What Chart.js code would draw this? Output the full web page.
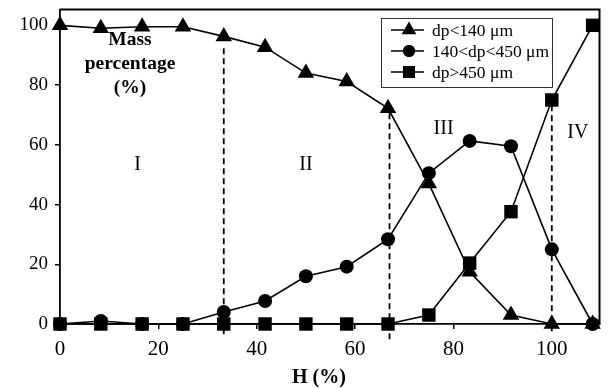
<!DOCTYPE html>
<html lang="en">
<head>
  <meta charset="UTF-8" />
  <title>Mass percentage vs H</title>
  <script src="https://cdn.jsdelivr.net/npm/chart.js"></script>
  <style>
    body {
      margin: 0;
      padding: 0;
      background: #fff;
    }
    .wrap {
      width: 609px;
      height: 388px;
    }
  </style>
</head>
<body>
  <div class="wrap">
    <canvas id="massChart" width="609" height="388"></canvas>
  </div>

  <script>
    // H (%) values, shared by all three size fractions
    const hValues = [0, 8.3, 16.7, 25, 33.3, 41.7, 50, 58.3, 66.7, 75, 83.3, 91.7, 100, 108.3];

    // mass percentage of each particle size class
    const fineMass = [100, 99, 99.5, 99.5, 96.3, 92.7, 84, 81.2, 72.2, 47, 17.5, 3, 0, 0];
    const middleMass = [0, 1, 0, 0, 4, 7.7, 16, 19.2, 28.4, 50.5, 61.3, 59.5, 25, 0];
    const coarseMass = [0, 0, 0, 0, 0, 0, 0, 0, 0, 3, 20.4, 37.6, 75, 100];

    const seriesNames = ['dp<140 \u03bcm', '140<dp<450 \u03bcm', 'dp>450 \u03bcm'];
    const seriesMarkers = ['triangle', 'circle', 'rect'];

    // regime boundaries (x, top, bottom) and region labels
    const boundaryX = [33.3, 67, 100];
    const boundaryTop = [92.3, 70.6, 73.2];
    const boundaryBottom = [-3.5, -6, -3.5];
    const regionNames = ['I', 'II', 'III', 'IV'];
    const regionX = [15.8, 50, 78, 105.3];
    const regionY = [53.2, 53.2, 65.5, 64];

    const xTicks = [0, 20, 40, 60, 80, 100];
    const yTicks = [0, 20, 40, 60, 80, 100];

    const serif = '"Liberation Serif", "Times New Roman", serif';

    function points(ys) {
      return hValues.map((h, i) => ({ x: h, y: ys[i] }));
    }

    const markerSize = { triangle: 9.5, circle: 7, rect: 9.5 };

    function makeSet(i, ys, order) {
      const m = seriesMarkers[i];
      return {
        label: seriesNames[i],
        data: points(ys),
        borderColor: '#000',
        backgroundColor: '#000',
        borderWidth: 1.6,
        pointStyle: m,
        pointRadius: markerSize[m],
        pointBorderWidth: 0,
        pointBackgroundColor: '#000',
        tension: 0,
        clip: false,
        order: order
      };
    }

    // dashed boundaries, region numerals, frame, axis texts and legend box
    const decorations = {
      id: 'decorations',
      afterDatasetsDraw(chart) {
        const ctx = chart.ctx;
        const xs = chart.scales.x;
        const ys = chart.scales.y;
        const area = chart.chartArea;
        ctx.save();

        // frame on top and right
        ctx.strokeStyle = '#000';
        ctx.lineWidth = 2;
        ctx.beginPath();
        ctx.moveTo(area.left, area.top);
        ctx.lineTo(area.right, area.top);
        ctx.lineTo(area.right, area.bottom);
        ctx.stroke();

        ctx.lineWidth = 1.8;
        ctx.setLineDash([6, 4]);
        boundaryX.forEach((bx, i) => {
          const px = xs.getPixelForValue(bx);
          ctx.beginPath();
          ctx.moveTo(px, ys.getPixelForValue(boundaryTop[i]));
          ctx.lineTo(px, ys.getPixelForValue(boundaryBottom[i]));
          ctx.stroke();
        });
        ctx.setLineDash([]);

        ctx.fillStyle = '#000';
        ctx.textAlign = 'center';
        ctx.textBaseline = 'middle';
        ctx.font = '20px ' + serif;
        regionNames.forEach((name, i) => {
          ctx.fillText(name, xs.getPixelForValue(regionX[i]), ys.getPixelForValue(regionY[i]));
        });

        ctx.font = 'bold 19.5px ' + serif;
        ctx.fillText('Mass', 130, 40);
        ctx.fillText('percentage', 130, 64);
        ctx.fillText('(%)', 130, 88);

        // x axis title
        ctx.font = 'bold 20px ' + serif;
        ctx.fillText('H (%)', 319, 378);

        // legend box
        const box = { left: 381, top: 18, right: 552, bottom: 87 };
        ctx.lineWidth = 1;
        ctx.strokeStyle = '#333';
        ctx.fillStyle = '#fff';
        ctx.fillRect(box.left, box.top, box.right - box.left, box.bottom - box.top);
        ctx.strokeRect(box.left + 0.5, box.top + 0.5, box.right - box.left, box.bottom - box.top);

        const rowY = [30, 51, 72];
        ctx.font = '17.5px ' + serif;
        ctx.textAlign = 'left';
        chart.data.datasets.forEach((ds, i) => {
          const y = rowY[i];
          ctx.strokeStyle = '#000';
          ctx.lineWidth = 1.6;
          ctx.beginPath();
          ctx.moveTo(391, y);
          ctx.lineTo(424, y);
          ctx.stroke();
          Chart.helpers.drawPoint(ctx, {
            pointStyle: ds.pointStyle,
            radius: ds.pointRadius - 1,
            borderWidth: 0
          }, 409, y);
          ctx.fillStyle = '#000';
          ctx.fill();
          ctx.fillText(ds.label, 432, y + 1);
        });

        ctx.restore();
      }
    };

    new Chart(document.getElementById('massChart').getContext('2d'), {
      type: 'line',
      data: {
        datasets: [
          makeSet(0, fineMass, 3),
          makeSet(1, middleMass, 2),
          makeSet(2, coarseMass, 1)
        ]
      },
      options: {
        responsive: false,
        animation: false,
        layout: { padding: { top: 9, right: 5, left: 0, bottom: 0 } },
        plugins: {
          legend: { display: false },
          tooltip: { enabled: false }
        },
        scales: {
          x: {
            type: 'linear',
            min: 0,
            max: 109.7,
            afterBuildTicks: s => { s.ticks = xTicks.map(v => ({ value: v })); },
            afterFit: s => {
              s.height = 64;
              s.paddingLeft = 0;
              s.paddingRight = 0;
            },
            ticks: { color: '#000', font: { family: serif, size: 21 }, padding: 8, maxRotation: 0 },
            grid: { display: true, drawOnChartArea: false, drawTicks: true, tickLength: 5, color: '#000', lineWidth: 1.5 },
            border: { display: true, color: '#000', width: 1.8 }
          },
          y: {
            min: 0,
            max: 105.3,
            afterBuildTicks: s => { s.ticks = yTicks.map(v => ({ value: v })); },
            afterFit: s => {
              s.width = 60;
              s.paddingTop = 0;
              s.paddingBottom = 0;
            },
            ticks: { color: '#000', font: { family: serif, size: 19 }, padding: 7 },
            grid: { display: true, drawOnChartArea: false, drawTicks: true, tickLength: 5, color: '#000', lineWidth: 1.5 },
            border: { display: true, color: '#000', width: 1.8 }
          }
        }
      },
      plugins: [decorations]
    });
  </script>
</body>
</html>
